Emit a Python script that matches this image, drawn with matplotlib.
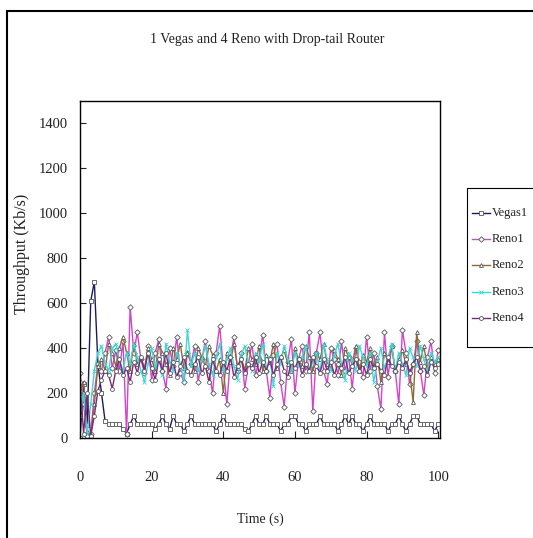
import numpy as np
import matplotlib
matplotlib.use("Agg")
import matplotlib.pyplot as plt
from matplotlib.patches import Rectangle
from matplotlib.lines import Line2D

# throughput per second (Kb/s), one value per second from t = 0 to 100
vegas1 = [0, 240, 60, 610, 695, 330, 200, 75, 62, 62,
          62, 62, 40, 20, 62, 98, 62, 62, 62, 62,
          62, 40, 62, 98, 62, 40, 98, 62, 62, 30,
          62, 98, 62, 62, 62, 62, 62, 62, 30, 62,
          98, 62, 62, 62, 62, 62, 40, 30, 62, 98,
          62, 62, 98, 62, 62, 62, 30, 62, 62, 98,
          98, 62, 62, 30, 62, 62, 62, 98, 62, 62,
          62, 62, 30, 62, 98, 62, 98, 62, 62, 30,
          62, 98, 62, 62, 62, 62, 30, 62, 62, 98,
          62, 30, 62, 98, 98, 62, 62, 62, 62, 30,
          62]

reno1 = [290, 150, 10, 20, 200, 330, 300, 380, 450, 310,
         390, 300, 430, 20, 585, 380, 470, 350, 290, 410,
         260, 380, 440, 300, 220, 400, 320, 450, 290, 250,
         380, 330, 410, 250, 350, 430, 300, 200, 380, 500,
         310, 150, 360, 450, 300, 380, 220, 330, 420, 280,
         350, 460, 300, 180, 370, 420, 250, 140, 340, 440,
         200, 350, 410, 300, 470, 120, 380, 470, 300, 240,
         400, 350, 280, 430, 300, 360, 220, 400, 340, 270,
         450, 300, 380, 230, 130, 470, 270, 410, 300, 150,
         480, 380, 240, 330, 430, 300, 190, 360, 430, 290,
         390]

reno2 = [200, 250, 30, 10, 150, 320, 350, 300, 420, 380,
         320, 400, 450, 380, 300, 420, 330, 360, 310, 400,
         350, 300, 420, 380, 330, 280, 400, 350, 420, 310,
         380, 340, 300, 400, 360, 320, 410, 370, 300, 350,
         200, 380, 340, 420, 310, 360, 300, 400, 350, 330,
         410, 300, 370, 340, 420, 310, 360, 390, 330, 300,
         400, 350, 320, 410, 360, 300, 380, 350, 420, 330,
         310, 390, 350, 280, 400, 360, 330, 410, 300, 370,
         340, 400, 320, 360, 250, 380, 340, 410, 300, 350,
         390, 330, 300, 160, 470, 340, 410, 310, 360, 330,
         350]

reno3 = [100, 200, 20, 150, 300, 380, 410, 330, 300, 400,
         420, 350, 300, 380, 330, 420, 360, 300, 250, 330,
         400, 310, 360, 280, 420, 340, 300, 380, 330, 260,
         480, 320, 380, 300, 350, 410, 330, 280, 360, 420,
         300, 350, 400, 320, 260, 370, 410, 330, 300, 380,
         340, 420, 300, 360, 230, 380, 330, 410, 350, 300,
         380, 320, 360, 410, 300, 340, 380, 290, 420, 350,
         300, 370, 420, 330, 260, 380, 340, 300, 410, 360,
         320, 380, 250, 340, 400, 310, 360, 420, 300, 380,
         330, 280, 400, 360, 320, 410, 350, 300, 380, 340,
         360]

reno4 = [250, 20, 200, 10, 100, 210, 260, 300, 280, 220,
         300, 350, 280, 310, 250, 340, 290, 360, 300, 380,
         310, 260, 350, 300, 380, 290, 340, 270, 320, 360,
         300, 280, 330, 360, 290, 320, 250, 350, 300, 280,
         340, 300, 360, 270, 320, 350, 290, 330, 310, 360,
         290, 340, 300, 350, 280, 330, 360, 300, 270, 340,
         310, 350, 280, 330, 300, 360, 320, 290, 350, 300,
         340, 280, 330, 310, 360, 290, 320, 350, 300, 330,
         280, 350, 310, 330, 300, 280, 360, 320, 300, 340,
         310, 350, 290, 330, 360, 300, 320, 280, 340, 310,
         330]

names = ["Vegas1", "Reno1", "Reno2", "Reno3", "Reno4"]
series = [vegas1, reno1, reno2, reno3, reno4]
colors = ["#1c1c5c", "#d444c8", "#8c6a3c", "#44d4d4", "#7a2a7a"]
markers = ["s", "D", "^", "x", "o"]
x_ticks = [0, 20, 40, 60, 80, 100]
y_ticks = [0, 200, 400, 600, 800, 1000, 1200, 1400]

plt.rcParams["font.family"] = ["Liberation Serif", "DejaVu Serif"]
text_col = "#222222"
W, H = 533, 538


def marker_style(col, mk):
    if mk == "x":
        return dict(mfc=col, mec=col)
    return dict(mfc="white", mec="#555555")


fig = plt.figure(figsize=(W / 100, H / 100), dpi=100)
ax = fig.add_axes([80 / W, 1 - 438 / H, 360 / W, 337 / H])

for name, vals, col, mk in zip(names, series, colors, markers):
    t = np.arange(len(vals))
    ax.plot(t, vals, color=col, lw=1.0, marker=mk, ms=2.8, mew=0.6,
            label=name, **marker_style(col, mk))

ax.set_xlim(0, 100.5)
ax.set_ylim(0, 1500)
ax.set_xticks(x_ticks)
ax.set_yticks(y_ticks)
ax.tick_params(axis="x", direction="in", length=5, pad=24, labelsize=10.5, colors=text_col)
ax.tick_params(axis="y", direction="in", length=4, pad=8.5, labelsize=10.5, colors=text_col)
for s in ax.spines.values():
    s.set_color("black")
    s.set_linewidth(1.0)

ax.set_xlabel("Time (s)", fontsize=10, color=text_col, labelpad=20)
ax.set_ylabel("Throughput (Kb/s)", fontsize=11.5, color=text_col)
ax.yaxis.set_label_coords((30 - 80) / 360, (438 - 254) / 337)
fig.text(267 / W, 1 - 40 / H, "1 Vegas and 4 Reno with Drop-tail Router",
         ha="center", va="center", fontsize=10, color=text_col)

# legend box on the right, partly cut by the chart edge
fig.add_artist(Rectangle((467 / W, 1 - 347 / H), 0.2, (347 - 188) / H,
                         transform=fig.transFigure, fill=False,
                         edgecolor="black", lw=0.8))
leg_y = [213, 239, 265, 292, 318]
for name, col, mk, yy in zip(names, colors, markers, leg_y):
    fy = 1 - yy / H
    fig.add_artist(Line2D([472 / W, 490 / W], [fy, fy], transform=fig.transFigure,
                          color=col, lw=1.0))
    fig.add_artist(Line2D([481 / W], [fy], transform=fig.transFigure, color=col,
                          marker=mk, ms=2.8, mew=0.6, **marker_style(col, mk)))
    fig.text(492 / W, fy, name, ha="left", va="center", fontsize=9, color=text_col)

# outer chart border
fig.add_artist(Rectangle((7 / W, -0.5), 2.0, 1.5 - 11 / H,
                         transform=fig.transFigure, fill=False,
                         edgecolor="black", lw=1.5))

fig.savefig("out.png", dpi=100)
